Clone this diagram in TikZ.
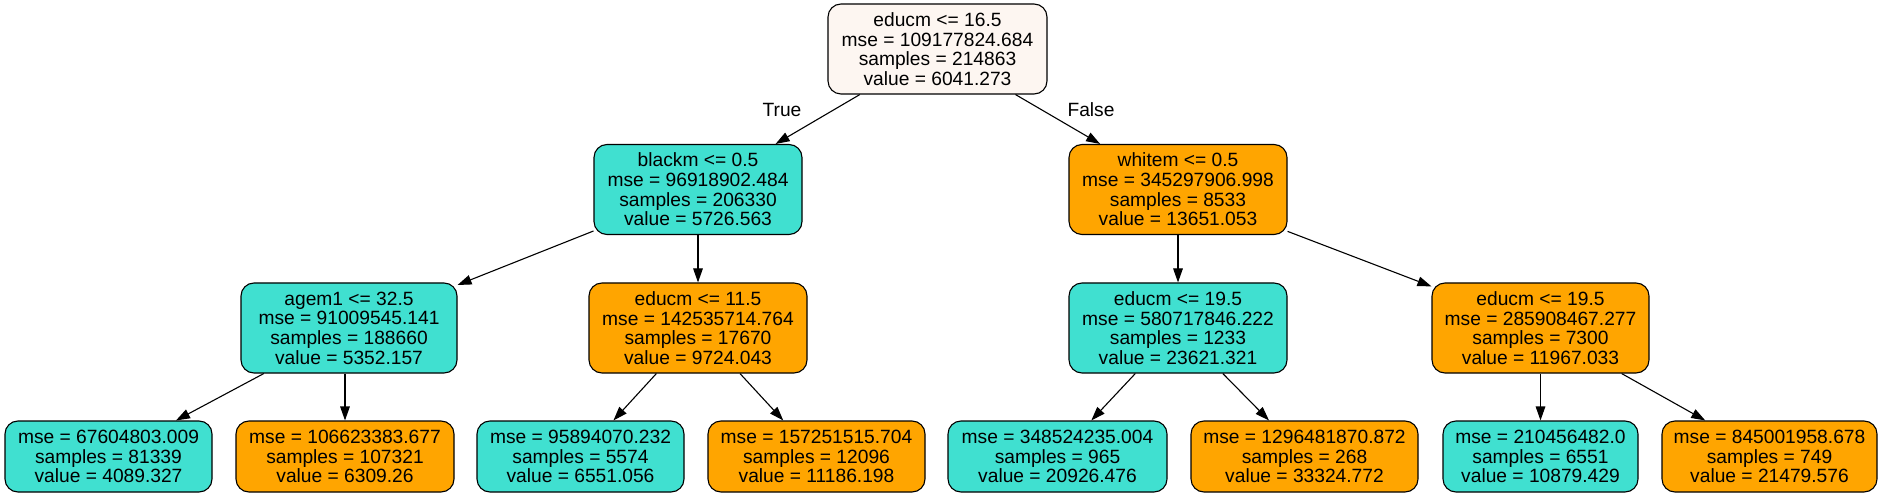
\documentclass[tikz,border=0pt]{standalone}
\usepackage{fontspec}
\setmainfont{Liberation Sans}
\usetikzlibrary{arrows.meta}
\definecolor{turq}{RGB}{64,224,208}
\definecolor{orng}{RGB}{255,165,0}
\definecolor{rootc}{RGB}{253,246,241}
\tikzset{
  tnode/.style={draw=black, line width=0.55pt, rounded corners=6.5pt, inner sep=0pt, align=center,
     font=\fontsize{9.6}{9.85}\selectfont},
  inner4/.style={tnode, minimum height=45pt},
  leaf3/.style={tnode, minimum height=35.5pt},
  tq/.style={fill=turq},
  og/.style={fill=orng},
  edge/.style={draw=black, line width=0.55pt, -{Triangle[length=7pt,width=4.8pt]}},
  elabel/.style={font=\fontsize{9.6}{9.85}\selectfont, inner sep=0pt}
}
\begin{document}
\begin{tikzpicture}[x=0.5pt,y=-0.5pt]
\useasboundingbox (0,0) rectangle (1885,497);
% level 0
\node[inner4, fill=rootc, minimum width=109.5pt] (n0) at (937.5,49) {educm <= 16.5\\mse = 109177824.684\\samples = 214863\\value = 6041.273};
% level 1
\node[inner4, tq, minimum width=104pt] (n1) at (698,189.5) {blackm <= 0.5\\mse = 96918902.484\\samples = 206330\\value = 5726.563};
\node[inner4, og, minimum width=109pt] (n8) at (1178,189.5) {whitem <= 0.5\\mse = 345297906.998\\samples = 8533\\value = 13651.053};
% level 2
\node[inner4, tq, minimum width=108pt] (n2) at (349,328) {agem1 <= 32.5\\mse = 91009545.141\\samples = 188660\\value = 5352.157};
\node[inner4, og, minimum width=109pt] (n5) at (698,328) {educm <= 11.5\\mse = 142535714.764\\samples = 17670\\value = 9724.043};
\node[inner4, tq, minimum width=109pt] (n9) at (1178,328) {educm <= 19.5\\mse = 580717846.222\\samples = 1233\\value = 23621.321};
\node[inner4, og, minimum width=108.5pt] (n12) at (1540.5,328) {educm <= 19.5\\mse = 285908467.277\\samples = 7300\\value = 11967.033};
% level 3 leaves
\node[leaf3, tq, minimum width=103.5pt] (n3) at (108.5,456.5) {mse = 67604803.009\\samples = 81339\\value = 4089.327};
\node[leaf3, og, minimum width=109pt] (n4) at (345,456.5) {mse = 106623383.677\\samples = 107321\\value = 6309.26};
\node[leaf3, tq, minimum width=103.5pt] (n6) at (580.5,456.5) {mse = 95894070.232\\samples = 5574\\value = 6551.056};
\node[leaf3, og, minimum width=108.5pt] (n7) at (816.5,456.5) {mse = 157251515.704\\samples = 12096\\value = 11186.198};
\node[leaf3, tq, minimum width=109.5pt] (n10) at (1057.5,456.5) {mse = 348524235.004\\samples = 965\\value = 20926.476};
\node[leaf3, og, minimum width=113.5pt] (n11) at (1304.5,456.5) {mse = 1296481870.872\\samples = 268\\value = 33324.772};
\node[leaf3, tq, minimum width=97.5pt] (n13) at (1540.5,456.5) {mse = 210456482.0\\samples = 6551\\value = 10879.429};
\node[leaf3, og, minimum width=107.5pt] (n14) at (1769.5,456.5) {mse = 845001958.678\\samples = 749\\value = 21479.576};
% edges
\draw[edge] (n0) -- (n1);
\draw[edge] (n0) -- (n8);
\draw[edge] (n1) -- (n2);
\draw[edge] (n1) -- (n5);
\draw[edge] (n2) -- (n3);
\draw[edge] (n4.north |- n2.south) -- (n4);
\draw[edge] (n5) -- (n6);
\draw[edge] (n5) -- (n7);
\draw[edge] (n8) -- (n9);
\draw[edge] (n8) -- (n12);
\draw[edge] (n9) -- (n10);
\draw[edge] (n9) -- (n11);
\draw[edge] (n12) -- (n13);
\draw[edge] (n12) -- (n14);
% edge labels
\node[elabel] (lt) at (782,110) {True};
\node[elabel] (lf) at (1091,110) {False};
\end{tikzpicture}
\end{document}
